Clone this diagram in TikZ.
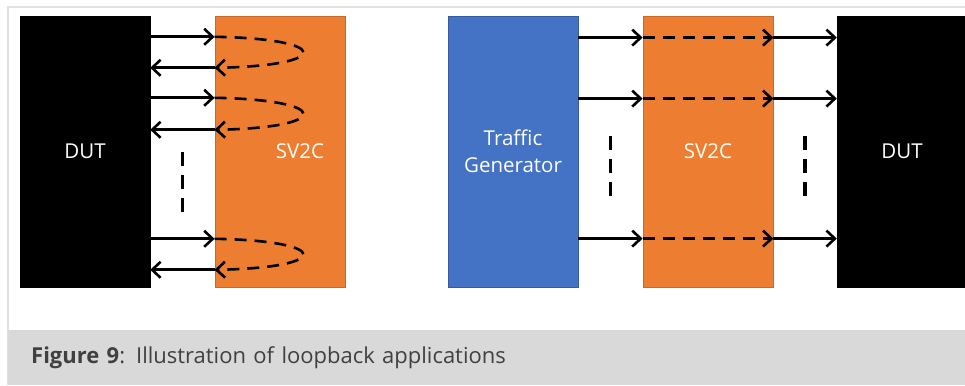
\documentclass[tikz,border=0pt]{standalone}
\usepackage{fontspec}
\setmainfont{Open Sans}
\usepackage{tikz}
\usetikzlibrary{arrows.meta}
\definecolor{svorange}{HTML}{ED7D31}
\definecolor{tgblue}{HTML}{4472C4}
\definecolor{capgray}{HTML}{D9D9D9}
\definecolor{framegray}{HTML}{E2E2E2}
\tikzstyle{dut} = [draw=black, fill=black, rectangle, minimum height=271pt, minimum width=130pt, text=white, font=\fontsize{20.5}{27}\selectfont]
\tikzstyle{block} = [draw=svorange!85!black, fill=svorange, rectangle, line width=0.8pt, minimum height=271pt, minimum width=130pt, text=white, font=\fontsize{20.5}{27}\selectfont]
\tikzstyle{gen} = [block, draw=tgblue!80!black, fill=tgblue, align=center]
\tikzstyle{boxtext} = [text=white, font=\fontsize{20.5}{27}\selectfont]
\tikzstyle{reference} = [coordinate]
\tikzstyle{wire} = [line width=2.6pt, ->]
\tikzstyle{loopback} = [wire, dash pattern=on 12pt off 8pt]
\tikzstyle{vdots} = [line width=3.5pt, dash pattern=on 14pt off 9pt]
\tikzstyle{frame} = [draw=framegray, line width=2pt]
\tikzstyle{caption} = [fill=capgray, rectangle, minimum width=957pt, minimum height=55pt, text width=911pt, inner xsep=23pt, align=left, text=black!75, font=\fontsize{22}{26}\selectfont]

\begin{document}
\begin{tikzpicture}[auto, x=1pt, y=1pt, node distance=195pt, >={Straight Barb[length=8.5pt,width=16pt]}]
\useasboundingbox (0,0) rectangle (965,385);
% Frame
	\draw [frame] (8,0) -- (8,378) -- (965,378);
% Nodes
	\node [dut] (dutA) at (85,233.5) {DUT};
	\node [block, right of=dutA] (sv2cA) {};
	\node [gen, right of=sv2cA, node distance=233pt] (tgen) {Traffic\\Generator};
	\node [block, right of=tgen] (sv2cB) {SV2C};
	\node [dut, right of=sv2cB, node distance=194pt] (dutB) {DUT};
	\node [reference] (a1) at ([yshift=-21pt]dutA.north east) {};
	\node [reference] (a2) at ([yshift=-52pt]dutA.north east) {};
	\node [reference] (a3) at ([yshift=-82pt]dutA.north east) {};
	\node [reference] (a4) at ([yshift=-114pt]dutA.north east) {};
	\node [reference] (a5) at ([yshift=-223pt]dutA.north east) {};
	\node [reference] (a6) at ([yshift=-254pt]dutA.north east) {};
	\node [reference] (b1) at ([yshift=-22pt]tgen.north east) {};
	\node [reference] (b2) at ([yshift=-83pt]tgen.north east) {};
	\node [reference] (b3) at ([yshift=-223pt]tgen.north east) {};
	\node [reference, right of=dutA, node distance=97.5pt, yshift=-31pt] (gapA) {};
	\node [reference, right of=tgen, node distance=97.5pt, yshift=-14.5pt] (gapB) {};
	\node [reference, right of=sv2cB, node distance=97pt, yshift=-14.5pt] (gapC) {};
% Connections
	\foreach \tx/\rx in {a1/a2, a3/a4, a5/a6} {
		\draw [wire] (\tx) -- (\tx -| sv2cA.west);
		\draw [wire] (\rx -| sv2cA.west) -- (\rx);
		\draw [loopback] (\tx -| sv2cA.west) .. controls +(118,-2) and +(118,2) .. (\rx -| sv2cA.west);
	}
	\foreach \r in {b1, b2, b3} {
		\draw [wire] (\r) -- (\r -| sv2cB.west);
		\draw [loopback] (\r -| sv2cB.west) -- (\r -| sv2cB.east);
		\draw [wire] (\r -| sv2cB.east) -- (\r -| dutB.west);
	}
	\foreach \g in {gapA, gapB, gapC}
		\draw [vdots] ([yshift=30pt]\g) -- ([yshift=-30pt]\g);
% Notations
	\node [boxtext, right of=dutA, node distance=215pt] (svlabel) {SV2C};
	\node [caption, anchor=south west] (cap) at (8,0) {\textbf{Figure 9}: Illustration of loopback applications};
\end{tikzpicture}
\end{document}
